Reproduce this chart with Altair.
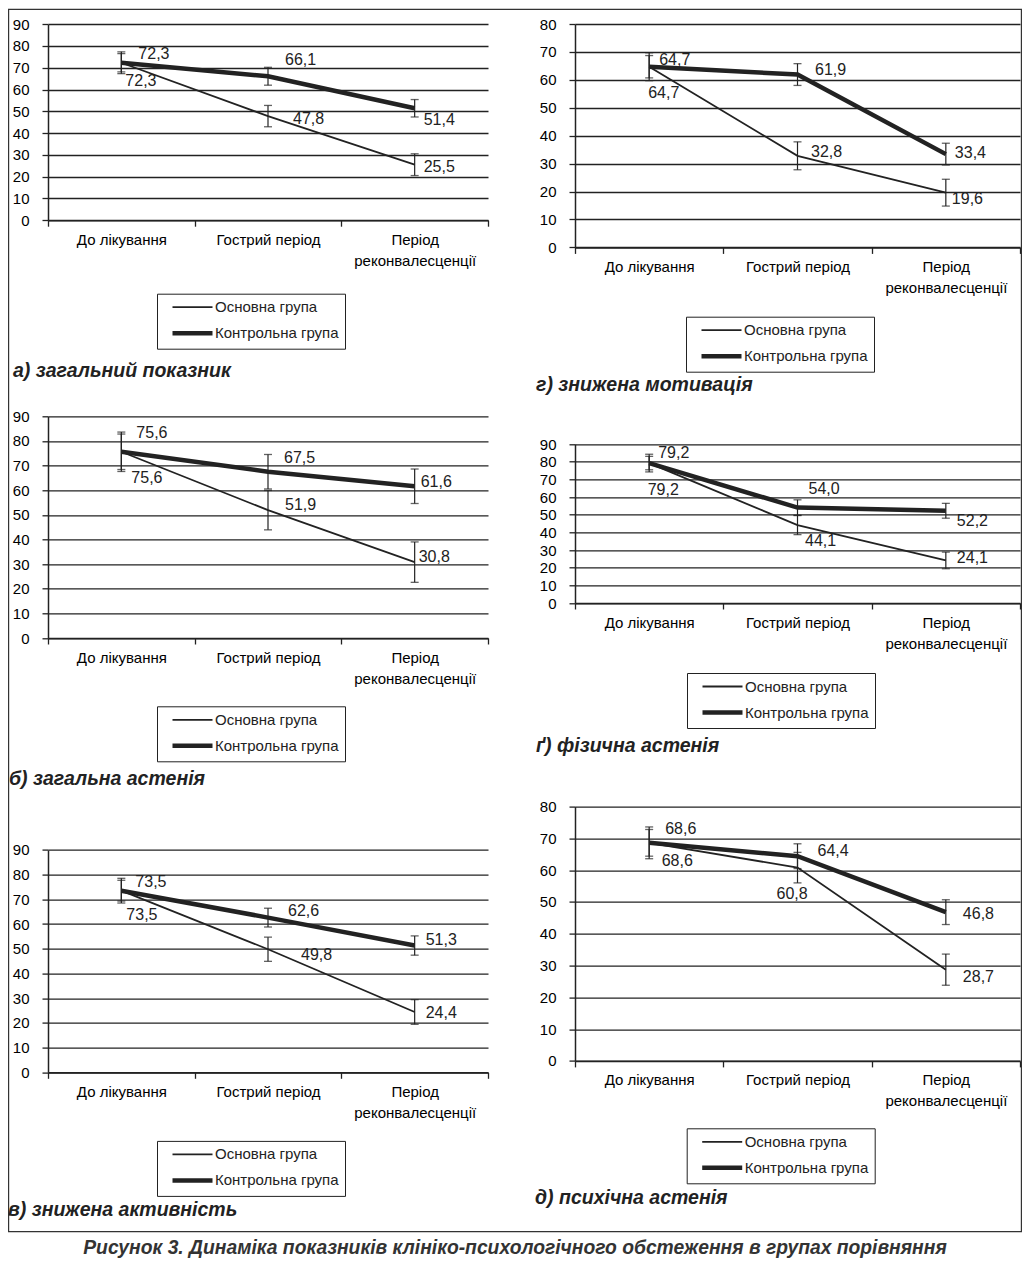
import altair as alt
import pandas as pd

FONT = "Liberation Sans"
INK = "#222222"

categories = ["До лікування", "Гострий період", "Період реконвалесценції"]
groups = ["Основна група", "Контрольна група"]

# ---- panel values (mean) and error half-widths ----
a_main = [72.3, 47.8, 25.5]
a_ctrl = [72.3, 66.1, 51.4]
a_main_err = [5.0, 4.9, 5.0]
a_ctrl_err = [4.2, 4.1, 4.0]

b_main = [75.6, 51.9, 30.8]
b_ctrl = [75.6, 67.5, 61.6]
b_main_err = [8.0, 8.0, 8.2]
b_ctrl_err = [7.2, 7.0, 7.0]

v_main = [73.5, 49.8, 24.4]
v_ctrl = [73.5, 62.6, 51.3]
v_main_err = [5.0, 4.9, 5.0]
v_ctrl_err = [4.2, 3.8, 3.9]

g_main = [64.7, 32.8, 19.6]
g_ctrl = [64.7, 61.9, 33.4]
g_main_err = [5.0, 5.0, 4.8]
g_ctrl_err = [4.0, 3.9, 3.9]

gg_main = [79.2, 44.1, 24.1]
gg_ctrl = [79.2, 54.0, 52.2]
gg_main_err = [5.0, 5.4, 4.7]
gg_ctrl_err = [3.8, 4.4, 4.2]

d_main = [68.6, 60.8, 28.7]
d_ctrl = [68.6, 64.4, 46.8]
d_main_err = [5.0, 4.8, 4.9]
d_ctrl_err = [4.2, 3.9, 3.9]

caption = "Рисунок 3. Динаміка показників клініко-психологічного обстеження в групах порівняння"

# ---- layout / style per panel (not data) ----
panels = [
    dict(title="а) загальний показник", main=a_main, ctrl=a_ctrl, me=a_main_err, ce=a_ctrl_err,
         w=440, h=223.4, ymax=90, rng=[196.2, 0.2], xoff=-27.2, leg=(109, 269.7), tpos=(-35, 346.7),
         nm=[(4, 18), (25, 3), (9, 2)], nc=[(17, -9), (17, -16), (9, 12)], frame=True),
    dict(title="г) знижена мотивація", main=g_main, ctrl=g_ctrl, me=g_main_err, ce=g_ctrl_err,
         w=445, h=223.4, ymax=80, rng=[223.4, 0], xoff=0, leg=(111, 292.7), tpos=(-39, 360.7),
         nm=[(-1, 26), (13.5, -4), (6, 6)], nc=[(10, -7), (17.5, -5), (9, -1)]),
    dict(title="б) загальна астенія", main=b_main, ctrl=b_ctrl, me=b_main_err, ce=b_ctrl_err,
         w=440, h=221.7, ymax=90, rng=[221.7, 0], xoff=0, leg=(109, 290), tpos=(-39, 363),
         nm=[(10, 26), (17, -5), (4, -5)], nc=[(15, -19), (16, -14), (6, -4)]),
    dict(title="ґ) фізична астенія", main=gg_main, ctrl=gg_ctrl, me=gg_main_err, ce=gg_ctrl_err,
         w=445, h=221.7, ymax=90, rng=[186.7, 27.7], xoff=-35, leg=(112, 256.7), tpos=(-39, 330),
         nm=[(-1.5, 27), (7.5, 16), (11, -2)], nc=[(9, -10), (11, -19), (11, 10)]),
    dict(title="в) знижена активність", main=v_main, ctrl=v_ctrl, me=v_main_err, ce=v_ctrl_err,
         w=440, h=265.7, ymax=90, rng=[265.7, 43.3], xoff=0, leg=(109, 334.3), tpos=(-40, 403.3),
         nm=[(5, 24), (33, 6), (11, 1)], nc=[(14, -9), (20, -7), (11, -6)]),
    dict(title="д) психічна астенія", main=d_main, ctrl=d_ctrl, me=d_main_err, ce=d_ctrl_err,
         w=445, h=265.7, ymax=80, rng=[254.3, 0], xoff=-11.4, leg=(111.7, 321.7), tpos=(-40, 391.7),
         nm=[(12.5, 18), (-21, 26), (17, 7)], nc=[(16, -13.5), (20, -5.6), (17, 2)]),
]

SYMBOL = "M-1,0M0.4,0H8.4"


def make_panel(p):
    recs = []
    for g, vals, errs in [(groups[0], p["main"], p["me"]), (groups[1], p["ctrl"], p["ce"])]:
        for c, v, e in zip(categories, vals, errs):
            recs.append({"period": c, "group": g, "value": v, "lo": v - e, "hi": v + e,
                         "label": f"{v:.1f}".replace(".", ",")})
    df = pd.DataFrame(recs)

    xaxis = alt.Axis(title=None, labelAngle=0, tickBand="extent", tickSize=6, labelPadding=6,
                     labelFontSize=15, labelLineHeight=21, offset=p["xoff"], grid=False,
                     domainWidth=1.5, tickWidth=1.3, domainColor=INK, tickColor=INK,
                     labelExpr="datum.label == 'Період реконвалесценції' ? ['Період', 'реконвалесценції'] : datum.label")
    X = alt.X("period:N", sort=categories,
              scale=alt.Scale(type="band", paddingInner=0, paddingOuter=0), axis=xaxis)
    yaxis = alt.Axis(title=None, values=list(range(0, p["ymax"] + 1, 10)), tickSize=6, labelPadding=13,
                     labelFontSize=15, grid=True, gridWidth=1.3, gridColor=INK, gridOpacity=1,
                     domainWidth=1.5, tickWidth=1.3, domainColor=INK, tickColor=INK)
    yscale = alt.Scale(domain=[0, p["ymax"]], range=p["rng"], nice=False, zero=True)

    def Y(f):
        return alt.Y(f"{f}:Q", scale=yscale, axis=yaxis)

    layers = []
    if p.get("frame"):
        layers.append(
            alt.Chart(pd.DataFrame({"k": [0]})).mark_rect(fillOpacity=0, stroke="#333333", strokeWidth=1.2)
            .encode(x=alt.value(-39.4), x2=alt.value(973.4), y=alt.value(-14.7), y2=alt.value(1207.7))
        )

    line = alt.Chart().mark_line(color=INK).encode(
        x=X, y=Y("value"),
        strokeWidth=alt.StrokeWidth(
            "group:N", sort=groups,
            scale=alt.Scale(type="ordinal", domain=groups, range=[1.8, 4.5]),
            legend=alt.Legend(title=None, orient="none", legendX=p["leg"][0], legendY=p["leg"][1],
                              symbolType=SYMBOL, symbolSize=100, symbolStrokeColor=INK,
                              symbolFillColor="transparent", labelFont=FONT, labelFontSize=15,
                              labelColor=INK, labelOffset=37, padding=6, rowPadding=8,
                              strokeColor=INK, fillColor="white", labelLimit=300)),
    )
    layers.append(line)
    layers.append(alt.Chart().mark_rule(color=INK, strokeWidth=1.2).encode(x=X, y=Y("lo"), y2="hi:Q"))
    layers.append(alt.Chart().mark_tick(color=INK, size=8, thickness=1.3).encode(x=X, y=Y("lo")))
    layers.append(alt.Chart().mark_tick(color=INK, size=8, thickness=1.3).encode(x=X, y=Y("hi")))

    for g, nudges in [(groups[0], p["nm"]), (groups[1], p["nc"])]:
        for c, (dx, dy) in zip(categories, nudges):
            layers.append(
                alt.Chart().transform_filter(f"datum.group == '{g}' && datum.period == '{c}'")
                .mark_text(align="left", baseline="middle", dx=dx, dy=dy, fontSize=16, font=FONT, color=INK)
                .encode(x=X, y=Y("value"), text="label:N")
            )

    layers.append(
        alt.Chart(pd.DataFrame({"t": [p["title"]]}))
        .mark_text(align="left", baseline="middle", fontSize=19.5, fontWeight="bold", fontStyle="italic",
                   font=FONT, color=INK)
        .encode(x=alt.value(p["tpos"][0]), y=alt.value(p["tpos"][1]), text="t:N")
    )
    if p.get("frame"):
        layers.append(
            alt.Chart(pd.DataFrame({"t": [caption]}))
            .mark_text(align="center", baseline="middle", fontSize=19.3, fontWeight="bold", fontStyle="italic",
                       font=FONT, color="#333333")
            .encode(x=alt.value(467), y=alt.value(1223.5), text="t:N")
        )
    return alt.layer(*layers, data=df).properties(
        width=p["w"], height=p["h"],
        view=alt.ViewBackground(strokeWidth=0, strokeOpacity=0),
    )


charts = [make_panel(p) for p in panels]

chart = (
    alt.concat(*charts, columns=2, spacing={"row": 168.3, "column": 87}, bounds="flush", padding=0)
    .resolve_scale(x="independent", y="independent", strokeWidth="independent")
    .resolve_legend(strokeWidth="independent")
    .configure_view(strokeWidth=0, strokeOpacity=0)
    .configure_axis(labelFont=FONT, labelColor=INK, domainColor=INK, tickColor=INK, gridColor=INK)
    .configure(background="white")
)

chart.save("out.html", embed_options={"renderer": "svg", "actions": False})
